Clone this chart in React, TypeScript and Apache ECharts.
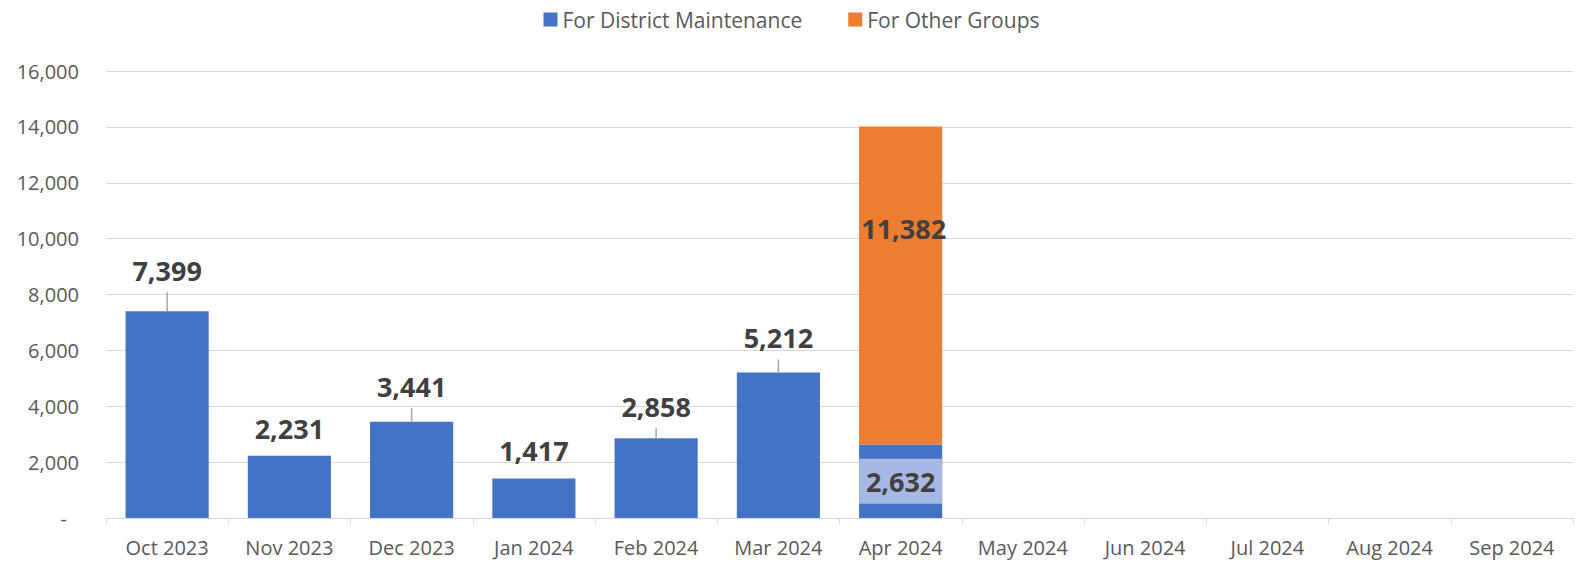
import React, { useEffect, useRef } from "react";
import * as echarts from "echarts";

const categories = [
  "Oct 2023", "Nov 2023", "Dec 2023", "Jan 2024", "Feb 2024", "Mar 2024",
  "Apr 2024", "May 2024", "Jun 2024", "Jul 2024", "Aug 2024", "Sep 2024",
];
const districtMaintenance: (number | null)[] = [7399, 2231, 3441, 1417, 2858, 5212, 2632, null, null, null, null, null];
const otherGroups: (number | null)[] = [null, null, null, null, null, null, 11382, null, null, null, null, null];
const yTicks = { min: 0, max: 16000, interval: 2000 };
const seriesNames = ["For District Maintenance", "For Other Groups"];

// label styling (distance above bar, whether a leader line is shown)
const labelDistance = [27, 14, 22, 14, 18, 21, 0, 0, 0, 0, 0, 0];
const showLeader = [true, false, true, false, true, true, false, false, false, false, false, false];

const FONT = "'Open Sans', 'Liberation Sans', sans-serif";
const LABEL_COLOR = "#404040";
const BLUE = "#4472c4";
const ORANGE = "#ed7d31";

export default function App() {
  const ref = useRef<HTMLDivElement>(null);
  useEffect(() => {
    if (!ref.current) return;
    const chart = echarts.init(ref.current, null, { renderer: "svg" });
    const fmt = (v: number) => v.toLocaleString("en-US");
    const blueData = districtMaintenance.map((v, i) => {
      if (v == null) return "-";
      if (categories[i] === "Apr 2024") {
        return {
          value: v,
          label: {
            show: true,
            position: "inside",
            width: 83,
            align: "center",
            padding: [5, 0, 5, 0],
            backgroundColor: "#a5b9e4",
            fontSize: 27,
            lineHeight: 35,
          },
        };
      }
      return {
        value: v,
        label: { show: true, position: "top", distance: labelDistance[i] },
      };
    });
    const orangeData = otherGroups.map((v) =>
      v == null
        ? "-"
        : {
            value: v,
            label: { show: true, position: "inside", offset: [3, -57] },
          }
    );
    chart.setOption({
      animation: false,
      textStyle: { fontFamily: FONT },
      legend: {
        top: 4,
        left: "center",
        itemWidth: 14,
        itemHeight: 14,
        itemGap: 46,
        icon: "rect",
        textStyle: { fontSize: 21, color: "#595959", fontFamily: FONT },
        data: seriesNames,
      },
      grid: { left: 106, right: 10, top: 71, bottom: 45, containLabel: false },
      xAxis: {
        type: "category",
        data: categories,
        axisLine: { lineStyle: { color: "#d9d9d9", width: 1 } },
        axisTick: { show: true, length: 6, lineStyle: { color: "#d9d9d9" } },
        axisLabel: { fontSize: 20, color: "#595959", margin: 19, fontFamily: FONT },
      },
      yAxis: {
        type: "value",
        min: yTicks.min,
        max: yTicks.max,
        interval: yTicks.interval,
        axisLine: { show: false },
        axisTick: { show: false },
        splitLine: { lineStyle: { color: "#d9d9d9", width: 1 } },
        axisLabel: {
          fontSize: 20,
          color: "#595959",
          margin: 27,
          fontFamily: FONT,
          formatter: (v: number) => (v === 0 ? "{z|-}" : fmt(v)),
          rich: { z: { fontSize: 20, color: "#595959", padding: [0, 12, 0, 0] } },
        },
      },
      series: [
        {
          name: seriesNames[0],
          type: "bar",
          stack: "total",
          barCategoryGap: "32%",
          itemStyle: { color: BLUE },
          label: {
            show: true,
            fontSize: 27,
            fontWeight: "bold",
            color: LABEL_COLOR,
            fontFamily: FONT,
            formatter: (p: any) => fmt(p.value),
          },
          data: blueData,
        },
        {
          name: seriesNames[1],
          type: "bar",
          stack: "total",
          barCategoryGap: "32%",
          itemStyle: { color: ORANGE },
          label: {
            show: true,
            fontSize: 27,
            fontWeight: "bold",
            color: LABEL_COLOR,
            fontFamily: FONT,
            formatter: (p: any) => fmt(p.value),
          },
          data: orangeData,
        },
      ],
    });

    // leader lines from bar tops to the moved labels, placed through the chart's own scales
    const leaderLines: any[] = [];
    districtMaintenance.forEach((v, i) => {
      if (v == null || !showLeader[i]) return;
      const pt = chart.convertToPixel({ seriesIndex: 0 }, [i, v]) as number[];
      if (!pt) return;
      const len = labelDistance[i] - 8;
      leaderLines.push({
        type: "line",
        silent: true,
        z: 10,
        shape: { x1: pt[0], y1: pt[1], x2: pt[0], y2: pt[1] - len },
        style: { stroke: "#a6a6a6", lineWidth: 1.5 },
      });
    });
    chart.setOption({ graphic: leaderLines });

    return () => chart.dispose();
  }, []);
  return (
    <div
      ref={ref}
      style={{ position: "fixed", left: 0, top: 0, width: 1583, height: 563, background: "#fff" }}
    />
  );
}
